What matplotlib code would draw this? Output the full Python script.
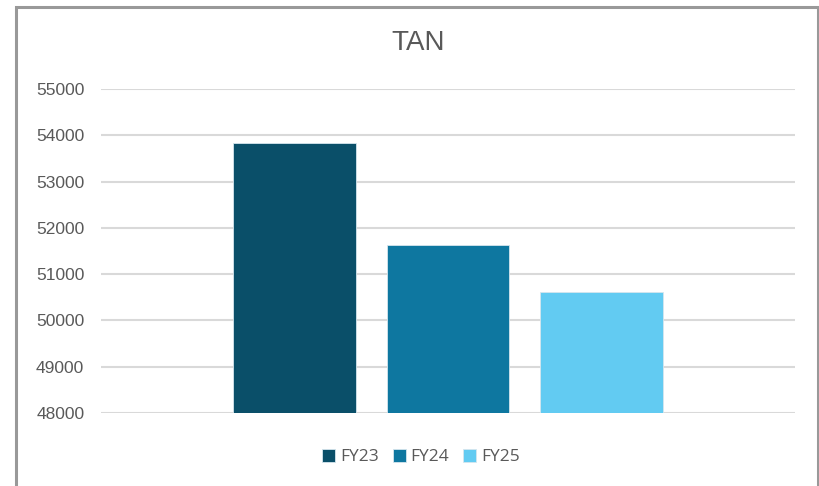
import matplotlib.pyplot as plt
from matplotlib.patches import Rectangle

series = ['FY23', 'FY24', 'FY25']
values = [53840, 51640, 50620]
colors = ['#0a4f69', '#0e77a0', '#62cbf2']
yticks = [48000, 49000, 50000, 51000, 52000, 53000, 54000, 55000]

plt.rcParams['font.family'] = ['Liberation Sans', 'DejaVu Sans']

fig = plt.figure(figsize=(8.2, 4.86), dpi=100)
ax = fig.add_axes([101 / 820, 1 - 413 / 486, 694 / 820, (413 - 89) / 486])

# chart frame (bottom edge runs off the image)
fig.patches.append(Rectangle((16 / 820, -0.05), (818 - 16) / 820, 1.05 - 7 / 486,
                             transform=fig.transFigure, fill=False,
                             edgecolor='#999999', linewidth=2.2))

positions = [-1, 0, 1]
bars = []
for pos, v, c, name in zip(positions, values, colors, series):
    b = ax.bar(pos, v - 48000, bottom=48000, width=0.8, color=c,
               edgecolor='#d6e6ee', linewidth=0.6, label=name, zorder=3)
    bars.append(b)

ax.set_xlim(-2.26, 2.26)
ax.set_ylim(48000, 55000)
ax.set_yticks(yticks)
ax.set_yticklabels([str(t) for t in yticks])
ax.set_xticks([])
ax.grid(axis='y', color='#d9d9d9', linewidth=1.5, zorder=0)
for s in ax.spines.values():
    s.set_visible(False)
ax.tick_params(axis='y', length=0, pad=12, labelsize=12.5, labelcolor='#595959')

fig.text(418 / 820, 1 - 43 / 486, 'TAN', ha='center', va='center',
         fontsize=20, color='#595959',
         family=['Liberation Sans Narrow', 'Liberation Sans', 'DejaVu Sans'])

fig.legend(handles=[b[0] for b in bars], labels=series, loc='center',
           bbox_to_anchor=(421 / 820, 1 - 457 / 486), ncol=3, frameon=False,
           fontsize=12.5, labelcolor='#595959', handlelength=0.75,
           handleheight=0.75, handletextpad=0.3, columnspacing=0.8,
           prop={'family': ['Open Sans', 'DejaVu Sans'], 'size': 12.5})

fig.savefig('out.png', dpi=100)
